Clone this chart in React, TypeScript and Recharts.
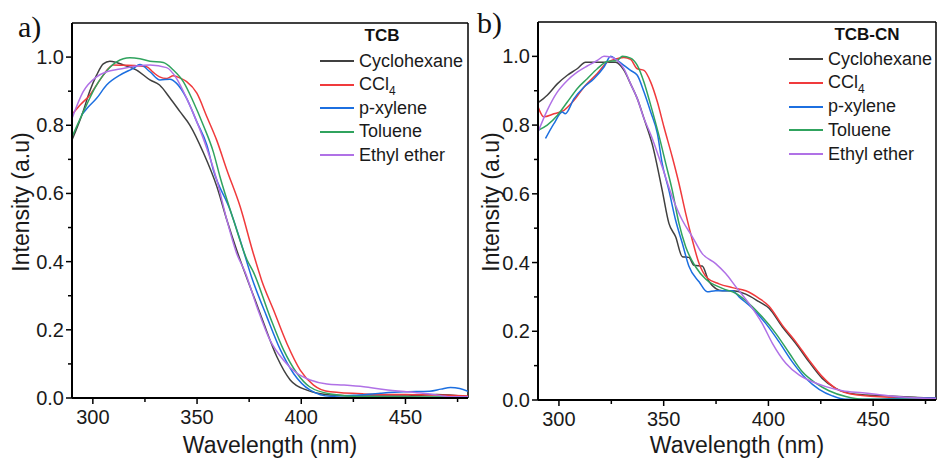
import React from 'react';
import { LineChart, Line, XAxis, YAxis, ReferenceLine } from 'recharts';

type Pt = [number, number];

// panel a) TCB, [wavelength nm, intensity]
const tcbCyclohexane: Pt[] = [[290,0.757],[295.3,0.84],[298.5,0.9],[301.8,0.947],[305,0.98],[308.2,0.988],[311,0.985],[314.6,0.977],[321,0.962],[327.4,0.933],[332,0.918],[337,0.88],[341.8,0.84],[346.6,0.8],[353,0.72],[359.5,0.62],[364.3,0.522],[369,0.434],[374,0.35],[378,0.285],[382,0.219],[388.3,0.121],[394.7,0.053],[402.7,0.023],[414,0.009],[430,0.006],[450,0.006],[465,0.01],[480,0.004]];
const tcbCCl4: Pt[] = [[290.5,0.835],[294,0.86],[298.6,0.889],[302,0.92],[305,0.947],[309.8,0.977],[315,0.976],[320,0.975],[325.8,0.972],[329,0.955],[332,0.942],[335.4,0.937],[338.6,0.945],[342,0.938],[345,0.928],[349.9,0.894],[354.7,0.825],[359.5,0.755],[364.3,0.669],[370.7,0.561],[377,0.424],[381,0.345],[386.7,0.258],[393.1,0.16],[399.5,0.082],[405.9,0.038],[414,0.018],[430,0.012],[450,0.01],[470,0.008],[480,0.006]];
const tcbPXylene: Pt[] = [[294.6,0.83],[298,0.855],[301.8,0.879],[306.6,0.918],[313,0.947],[319.4,0.967],[322.6,0.978],[327.4,0.957],[332.2,0.933],[337,0.935],[340.2,0.923],[345,0.879],[349.9,0.81],[354.7,0.742],[357.8,0.669],[365.9,0.551],[370.7,0.463],[376.3,0.352],[383.5,0.238],[390,0.141],[396.3,0.072],[404.3,0.023],[414,0.005],[425,0.008],[438,0.014],[449,0.018],[461.6,0.02],[467,0.026],[471.6,0.031],[476,0.028],[480,0.02]];
const tcbToluene: Pt[] = [[290,0.766],[297,0.86],[301,0.91],[305,0.947],[311.4,0.986],[317.8,0.998],[322.6,0.995],[327.4,0.988],[333.8,0.984],[338.6,0.962],[343.4,0.928],[348.2,0.869],[353,0.8],[357.8,0.722],[361,0.649],[367.5,0.522],[374,0.405],[377,0.37],[385,0.238],[391.5,0.141],[398,0.072],[404,0.033],[414,0.012],[430,0.004],[480,0.003]];
const tcbEthylEther: Pt[] = [[290,0.82],[295.3,0.898],[301.8,0.942],[306.6,0.957],[313,0.965],[321,0.974],[327.4,0.977],[335.4,0.969],[340.2,0.937],[345,0.879],[349.9,0.81],[354.7,0.732],[359.5,0.639],[364.3,0.522],[369,0.424],[373,0.37],[378.7,0.268],[385,0.17],[391.5,0.111],[398,0.072],[404.3,0.053],[412.3,0.041],[420.3,0.038],[430,0.033],[439.6,0.025],[450.8,0.018],[462,0.012],[471.6,0.004],[480,0.004]];

// panel b) TCB-CN
const cnCyclohexane: Pt[] = [[290,0.865],[294.4,0.887],[299.2,0.92],[304,0.945],[308.7,0.964],[312.7,0.983],[318,0.983],[323,0.983],[327,0.983],[331,0.96],[334.2,0.92],[337.4,0.877],[340.6,0.819],[344.6,0.743],[349.3,0.61],[352.5,0.514],[355.7,0.475],[358.9,0.417],[362,0.415],[364.5,0.392],[368.4,0.39],[371.6,0.345],[378,0.318],[382.8,0.318],[389.2,0.308],[395.5,0.286],[400.3,0.267],[406.6,0.213],[413,0.165],[419.4,0.111],[425.7,0.063],[432.1,0.034],[441.7,0.017],[457.6,0.012],[470,0.008],[480,0.005]];
const cnCCl4: Pt[] = [[290,0.853],[292.8,0.824],[297.6,0.833],[302.4,0.843],[307.2,0.872],[312,0.911],[318.3,0.95],[323.1,0.983],[326.3,0.991],[331,0.997],[334.2,0.991],[337.4,0.964],[340.6,0.959],[343.8,0.925],[347,0.867],[350.1,0.795],[354.1,0.707],[357.3,0.63],[360.5,0.543],[363.7,0.465],[366.9,0.397],[370.8,0.355],[376.4,0.338],[382.8,0.327],[389.2,0.318],[395.5,0.296],[400.3,0.273],[406.6,0.218],[413,0.17],[419.4,0.116],[425.7,0.068],[432.1,0.034],[441.7,0.015],[457.6,0.008],[480,0.006]];
const cnPXylene: Pt[] = [[293.6,0.761],[297.6,0.804],[301.6,0.838],[303,0.833],[307.2,0.877],[312,0.911],[316.7,0.935],[321.5,0.969],[324.7,1.0],[327.8,0.988],[331,0.974],[334.2,0.959],[337.4,0.945],[340.6,0.896],[343.8,0.838],[347,0.775],[349.3,0.688],[352.5,0.61],[355.7,0.523],[358.9,0.456],[362,0.39],[366.9,0.344],[370.8,0.315],[374.8,0.318],[382.8,0.318],[386,0.3],[392.3,0.267],[398.7,0.223],[405,0.17],[411.4,0.111],[417.8,0.063],[424.2,0.031],[430.5,0.012],[436.9,0.002],[450,0.002],[465,0.006],[480,0.006]];
const cnToluene: Pt[] = [[290,0.785],[294.4,0.8],[299.2,0.828],[304,0.867],[308.7,0.906],[313.5,0.935],[318.3,0.964],[323.1,0.985],[327.8,0.988],[330.3,1.0],[334.2,0.995],[337.4,0.974],[340.6,0.925],[343.8,0.858],[347.5,0.775],[351,0.688],[354.1,0.61],[357.3,0.514],[360.5,0.446],[365.3,0.387],[370,0.352],[378,0.325],[384.4,0.31],[390.7,0.281],[397,0.242],[403.5,0.194],[410,0.136],[416.2,0.082],[422.6,0.049],[428.9,0.027],[436.9,0.01],[444.8,0.002],[480,0.002]];
const cnEthylEther: Pt[] = [[290,0.78],[294.4,0.843],[299.2,0.896],[304,0.93],[308.7,0.954],[313.5,0.972],[318.3,0.988],[321.5,1.0],[324.7,0.998],[327.8,0.988],[331,0.964],[334.2,0.92],[337.4,0.877],[340.6,0.819],[344,0.77],[349.3,0.678],[354.1,0.591],[358.9,0.523],[363.7,0.475],[368.4,0.426],[374.8,0.397],[379.6,0.368],[384.4,0.33],[390.7,0.281],[397,0.223],[401.9,0.165],[408.3,0.107],[414.6,0.073],[421,0.053],[427.4,0.039],[435.3,0.027],[444.9,0.021],[451.3,0.017],[460.9,0.01],[473.6,0.005],[480,0.004]];

const solvents = ['Cyclohexane', 'CCl4', 'p-xylene', 'Toluene', 'Ethyl ether'];
const solventColors = ['#404040', '#f03a3c', '#1c6fe0', '#30a35e', '#b071e6'];
const xTicks = [300, 325, 350, 375, 400, 425, 450, 475];
const yTicks = [0, 0.1, 0.2, 0.3, 0.4, 0.5, 0.6, 0.7, 0.8, 0.9, 1.0];

const FONT = '"Liberation Sans", Arial, sans-serif';

const XTick = (props: any) => {
  const { x, y, payload } = props;
  const major = payload.value % 50 === 0;
  return (
    <g>
      <line x1={x} x2={x} y1={y} y2={y + (major ? 6 : 4)} stroke="#000" strokeWidth={1.5} />
      {major && (
        <text x={x} y={y + 12} dy="0.71em" textAnchor="middle" fontSize={20} fontFamily={FONT} fill="#1a1a1a">
          {payload.value}
        </text>
      )}
    </g>
  );
};

const YTick = (props: any) => {
  const { x, y, payload } = props;
  const major = Math.round(payload.value * 10) % 2 === 0;
  return (
    <g>
      <line x1={x - (major ? 6 : 4)} x2={x} y1={y} y2={y} stroke="#000" strokeWidth={1.5} />
      {major && (
        <text x={x - 8} y={y} dy="0.35em" textAnchor="end" fontSize={20} fontFamily={FONT} fill="#1a1a1a">
          {payload.value.toFixed(1)}
        </text>
      )}
    </g>
  );
};

const SolventName = ({ name }: { name: string }) =>
  name === 'CCl4' ? (
    <span>
      CCl<sub style={{ fontSize: 12, verticalAlign: -5, lineHeight: 0 }}>4</sub>
    </span>
  ) : (
    <span>{name}</span>
  );

interface PanelProps {
  left: number;
  width: number;
  margin: { top: number; right: number; bottom: number; left: number };
  yAxisWidth: number;
  xAxisHeight: number;
  series: Pt[][];
  letter: string;
  letterPos: [number, number];
  title: string;
  titleCenter: [number, number];
  legendX: number;
  legendY: number;
  rowGap: number;
}

const Panel: React.FC<PanelProps> = (p) => {
  const plotLeft = p.margin.left + p.yAxisWidth;
  const plotRight = p.width - p.margin.right;
  const plotCenter = (plotLeft + plotRight) / 2;
  return (
    <div style={{ position: 'absolute', left: p.left, top: 0, width: p.width, height: 459, fontFamily: FONT }}>
      <LineChart width={p.width} height={459} margin={p.margin}>
        <XAxis
          type="number"
          dataKey="x"
          domain={[290, 480]}
          ticks={xTicks}
          interval={0}
          height={p.xAxisHeight}
          tickSize={0}
          tickMargin={0}
          tickLine={false}
          tick={<XTick />}
          axisLine={{ stroke: '#000', strokeWidth: 2 }}
          allowDataOverflow
        />
        <YAxis
          type="number"
          domain={[0, 1.1]}
          ticks={yTicks}
          interval={0}
          width={p.yAxisWidth}
          tickSize={0}
          tickMargin={0}
          tickLine={false}
          tick={<YTick />}
          axisLine={{ stroke: '#000', strokeWidth: 2 }}
          allowDataOverflow
        />
        <ReferenceLine y={1.1} stroke="#000" strokeWidth={1.5} />
        <ReferenceLine x={480} stroke="#000" strokeWidth={1.5} />
        {p.series.map((s, i) => (
          <Line
            key={solvents[i]}
            data={s.map(([x, y]) => ({ x, y }))}
            dataKey="y"
            type="monotone"
            stroke={solventColors[i]}
            strokeWidth={1.5}
            dot={false}
            isAnimationActive={false}
          />
        ))}
      </LineChart>

      <div style={{ position: 'absolute', left: p.letterPos[0], top: p.letterPos[1], fontFamily: '"Liberation Serif", "Times New Roman", serif', fontSize: 30, lineHeight: 1, color: '#111' }}>
        {p.letter}
      </div>
      <div style={{ position: 'absolute', left: 21, top: 202, transform: 'translate(-50%, -50%) rotate(-90deg)', fontSize: 23, lineHeight: 1, whiteSpace: 'nowrap', color: '#1a1a1a' }}>
        Intensity (a.u)
      </div>
      <div style={{ position: 'absolute', left: plotCenter, top: 445, transform: 'translate(-50%, -50%)', fontSize: 23, lineHeight: 1, whiteSpace: 'nowrap', color: '#1a1a1a' }}>
        Wavelength (nm)
      </div>

      <div style={{ position: 'absolute', left: p.titleCenter[0], top: p.titleCenter[1], transform: 'translate(-50%, -50%)', fontSize: 17, fontWeight: 'bold', lineHeight: 1, whiteSpace: 'nowrap', color: '#111' }}>
        {p.title}
      </div>
      {solvents.map((name, i) => (
        <div
          key={name}
          style={{ position: 'absolute', left: p.legendX, top: p.legendY + i * p.rowGap - 11, height: 22, display: 'flex', alignItems: 'center', whiteSpace: 'nowrap', fontSize: 18, color: '#1a1a1a' }}
        >
          <div style={{ width: 34, height: 2, background: solventColors[i], marginRight: 5 }} />
          <SolventName name={name} />
        </div>
      ))}
    </div>
  );
};

export default function App() {
  return (
    <div style={{ position: 'absolute', left: 0, top: 0, width: 937, height: 459, background: '#fff', overflow: 'hidden' }}>
      <Panel
        left={0}
        width={470}
        margin={{ top: 23, right: 2, bottom: 0, left: 0 }}
        yAxisWidth={72}
        xAxisHeight={61}
        series={[tcbCyclohexane, tcbCCl4, tcbPXylene, tcbToluene, tcbEthylEther]}
        letter="a)"
        letterPos={[18, 12]}
        title="TCB"
        titleCenter={[382, 35]}
        legendX={320}
        legendY={61}
        rowGap={23.5}
      />
      <Panel
        left={470}
        width={467}
        margin={{ top: 22, right: 1, bottom: 0, left: 0 }}
        yAxisWidth={68}
        xAxisHeight={59}
        series={[cnCyclohexane, cnCCl4, cnPXylene, cnToluene, cnEthylEther]}
        letter="b)"
        letterPos={[7, 8]}
        title="TCB-CN"
        titleCenter={[397, 34]}
        legendX={319}
        legendY={59}
        rowGap={23.8}
      />
    </div>
  );
}
